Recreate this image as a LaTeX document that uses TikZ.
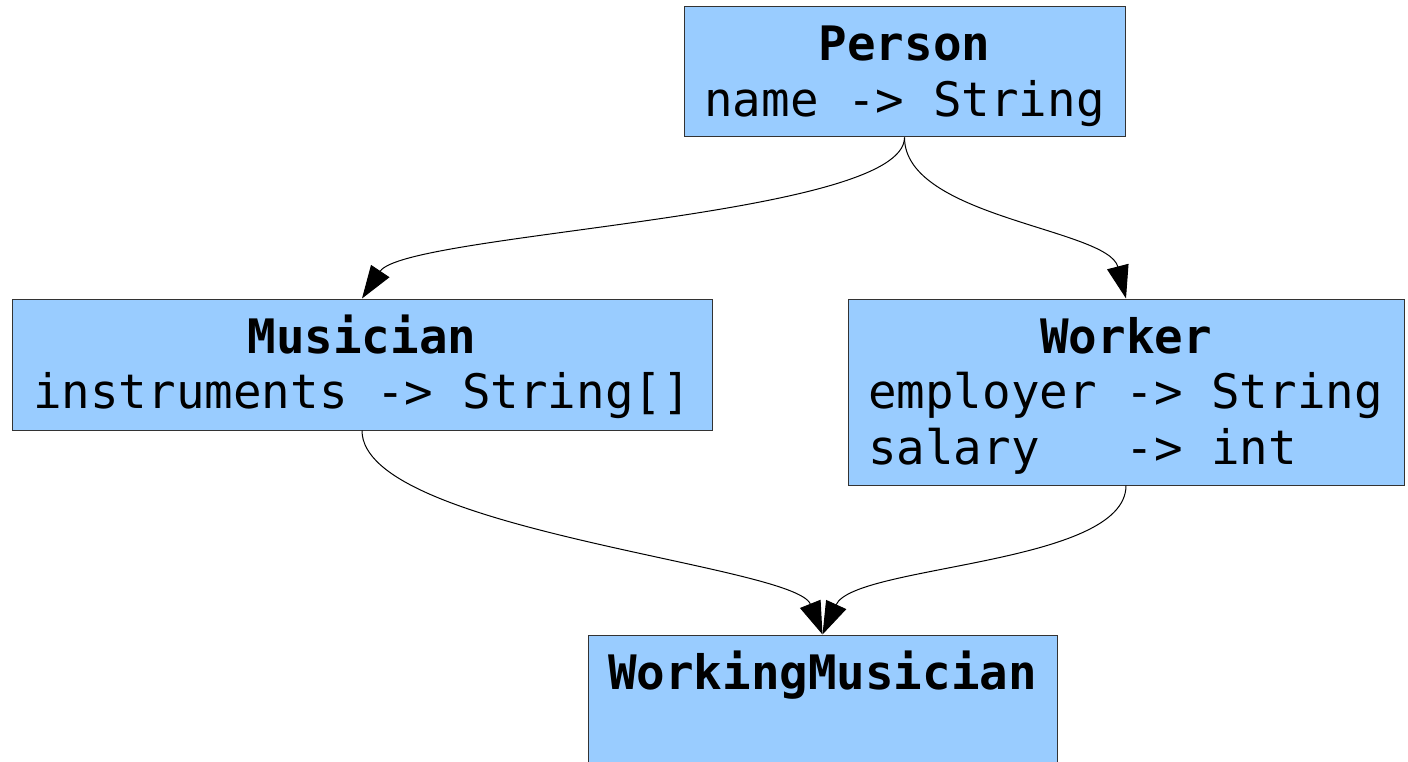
\documentclass[tikz,border=0pt]{standalone}
\usepackage{fontspec}
\setmonofont{DejaVu Sans Mono}
\usetikzlibrary{arrows.meta}
\definecolor{boxblue}{HTML}{99CCFF}
\definecolor{boxline}{HTML}{333333}
\tikzset{
  classbox/.style={draw=boxline, line width=1pt, fill=boxblue, rectangle, inner sep=0pt},
  label/.style={inner sep=0pt, font=\ttfamily\fontsize{47.5}{55}\selectfont},
  title/.style={label, font=\ttfamily\bfseries\fontsize{47.5}{55}\selectfont, anchor=base},
  edge/.style={draw=black, line width=1pt, -{Triangle[length=33pt,width=22pt]}}
}
\begin{document}
\begin{tikzpicture}[x=1pt,y=-1pt]
\useasboundingbox (0,0) rectangle (1408,762);
\fill[white] (0,0) rectangle (1408,762);
% boxes
\node[classbox, minimum width=441pt, minimum height=130pt] (person) at (904.5,72) {};
\node[classbox, minimum width=700pt, minimum height=131pt] (musician) at (362,364.5) {};
\node[classbox, minimum width=556pt, minimum height=186pt] (worker) at (1126,392) {};
\node[classbox, minimum width=469pt, minimum height=132pt] (wm) at (822.5,701) {};
% texts
\node[title] (persont) at (904.5,61) {Person};
\node[label, anchor=base] (persona) at (904.5,117) {name -> String};
\node[title] (musiciant) at (362,353) {Musician};
\node[label, anchor=base] (musiciana) at (362,408) {instruments -> String[]};
\node[title] (workert) at (1126,353) {Worker};
\node[label, anchor=base west] (workera) at (868,408) {employer -> String};
\node[label, anchor=base west] (workerb) at (868,464) {salary~~~-> int};
\node[title] (wmt) at (822.5,689) {WorkingMusician};
% edges
\draw[edge] (person.south) .. controls +(0,80) and +(44,-66) .. (musician.north);
\draw[edge] (person.south) .. controls +(0,80) and +(-18,-70) .. (worker.north);
\draw[edge] (musician.south) .. controls +(0,100) and +(-28,-70) .. (wm.north);
\draw[edge] (worker.south) .. controls +(0,80) and +(32,-70) .. (wm.north);
\end{tikzpicture}
\end{document}
